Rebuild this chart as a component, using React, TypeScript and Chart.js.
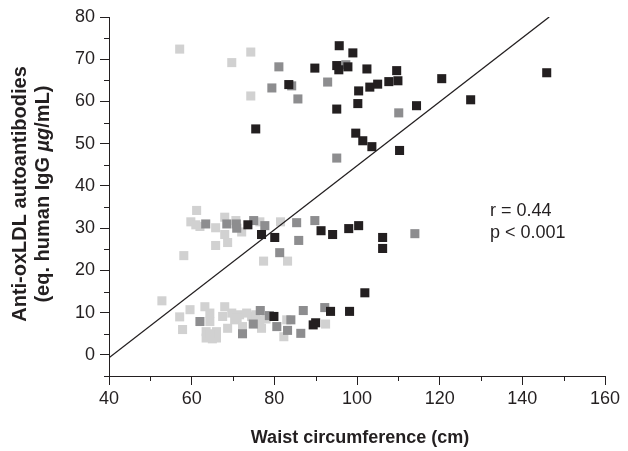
import { useEffect, useRef } from 'react';
import { Chart, registerables } from 'chart.js';

Chart.register(...registerables);

const INK = '#231f20';
const LIGHT = '#d1d1d1';
const MID = '#8d8d8f';

// Waist circumference (cm), anti-oxLDL (µg/mL) — light grey group
const lightPts: [number, number][] = [
  [57.1, 72.4], [74.3, 71.7], [69.7, 69.2], [74.3, 61.3],
  [61.2, 34.2], [59.8, 31.5], [61.0, 30.8], [62.0, 30.4], [65.8, 30.1], [68.0, 32.6],
  [70.7, 31.8], [72.1, 29.1], [76.5, 31.5], [68.0, 28.5], [68.7, 26.6], [65.8, 25.9],
  [81.5, 31.5], [77.4, 22.2], [83.2, 22.2], [58.1, 23.5],
  [52.8, 12.8], [59.6, 10.7], [57.1, 9.0], [57.8, 6.0], [63.2, 11.4], [64.4, 9.9],
  [64.4, 7.9], [68.0, 11.4], [67.5, 9.1], [69.7, 9.9], [70.4, 8.3], [68.7, 6.3],
  [71.6, 9.5], [73.3, 9.9], [72.3, 6.7], [74.5, 9.1], [76.5, 8.3], [76.9, 6.3],
  [83.0, 8.3], [82.3, 4.3], [92.4, 7.3], [63.5, 5.5], [66.0, 5.5], [63.5, 4.0],
  [66.0, 4.0], [65.0, 3.8], [64.5, 5.0], [71.0, 8.8], [75.5, 9.5], [78.0, 8.5],
];

// mid grey group
const midPts: [number, number][] = [
  [81.1, 68.2], [97.3, 68.7], [92.9, 64.6], [84.2, 63.7], [79.4, 63.2], [85.7, 60.6],
  [110.1, 57.3], [95.1, 46.6],
  [63.4, 31.0], [68.5, 31.0], [70.8, 31.0], [70.9, 30.0], [75.0, 31.8], [77.7, 30.6],
  [85.4, 31.3], [89.8, 31.8], [85.9, 27.1], [81.3, 24.2], [114.0, 28.7],
  [62.0, 7.9], [72.3, 5.0], [74.9, 7.3], [76.6, 10.5], [78.8, 9.3], [80.6, 6.7],
  [84.0, 8.3], [83.2, 5.8], [86.4, 5.1], [87.0, 10.5], [92.2, 11.2],
];

// black group
const darkPts: [number, number][] = [
  [95.7, 73.2], [99.0, 71.5], [89.8, 67.9], [95.1, 68.5], [97.8, 68.2], [95.6, 67.5],
  [102.4, 67.7], [83.5, 64.0], [103.1, 63.4], [105.0, 64.1], [107.7, 64.7], [109.6, 67.3],
  [109.9, 64.9], [100.4, 62.5], [100.2, 59.5], [95.1, 58.2], [75.5, 53.5], [99.7, 52.5],
  [101.4, 50.7], [103.6, 49.3], [120.5, 65.4], [114.4, 59.0], [127.5, 60.4], [145.9, 66.8],
  [110.3, 48.4],
  [73.6, 30.8], [76.9, 28.5], [80.1, 27.8], [91.3, 29.4], [94.1, 28.5], [98.0, 29.9],
  [100.4, 30.6], [106.2, 27.8], [106.2, 25.2],
  [101.9, 14.7], [79.9, 9.1], [93.6, 10.3], [98.2, 10.3], [90.0, 7.6], [89.4, 7.1],
];

// regression line end points
const fitLine: [number, number][] = [[40, -0.7], [146.5, 80]];

const xTickLabels = [40, 60, 80, 100, 120, 140, 160];
const yTickLabels = [0, 10, 20, 30, 40, 50, 60, 70, 80];
const statLines = ['r = 0.44', 'p < 0.001'];

const FONT = '"Liberation Sans", Arial, Helvetica, sans-serif';

const toXY = (pts: [number, number][]) => pts.map(([x, y]) => ({ x, y }));

const minorTicks = {
  id: 'minorTicks',
  afterDraw(chart: any) {
    const { ctx } = chart;
    const xs = chart.scales.x;
    const ys = chart.scales.y;
    ctx.save();
    ctx.strokeStyle = INK;
    ctx.lineWidth = 1;
    ctx.beginPath();
    xs.ticks.forEach((t: any) => {
      if (!xTickLabels.includes(t.value)) {
        const px = Math.round(xs.getPixelForValue(t.value)) + 0.5;
        ctx.moveTo(px, xs.top);
        ctx.lineTo(px, xs.top + 5);
      }
    });
    ys.ticks.forEach((t: any) => {
      if (!yTickLabels.includes(t.value)) {
        const py = Math.round(ys.getPixelForValue(t.value)) + 0.5;
        ctx.moveTo(ys.right - 5, py);
        ctx.lineTo(ys.right, py);
      }
    });
    ctx.stroke();
    ctx.restore();
  },
};

const titles = {
  id: 'titles',
  afterDraw(chart: any) {
    const { ctx } = chart;
    ctx.save();
    ctx.fillStyle = INK;
    // x title
    ctx.font = `bold 18px ${FONT}`;
    ctx.textAlign = 'center';
    ctx.textBaseline = 'middle';
    ctx.fillText('Waist circumference (cm)', 360, 438);

    // y title (rotated, two lines)
    ctx.translate(20, 194);
    ctx.rotate(-Math.PI / 2);
    ctx.font = `bold 20px ${FONT}`;
    ctx.textAlign = 'center';
    ctx.fillText('Anti-oxLDL autoantibodies', 0, 0);
    const segs: [string, string][] = [
      ['(eq. human IgG ', `bold 20px ${FONT}`],
      ['\u00b5g', `italic bold 20px ${FONT}`],
      ['/mL)', `bold 20px ${FONT}`],
    ];
    let total = 0;
    segs.forEach(([s, f]) => { ctx.font = f; total += ctx.measureText(s).width; });
    let cx = -total / 2;
    ctx.textAlign = 'left';
    segs.forEach(([s, f]) => {
      ctx.font = f;
      ctx.fillText(s, cx, 23);
      cx += ctx.measureText(s).width;
    });
    ctx.restore();

    // statistics
    ctx.save();
    ctx.fillStyle = INK;
    ctx.font = `18px ${FONT}`;
    ctx.textAlign = 'left';
    ctx.textBaseline = 'middle';
    statLines.forEach((s, i) => ctx.fillText(s, 490, 211 + i * 22));
    ctx.restore();
  },
};

export default function App() {
  const ref = useRef<HTMLCanvasElement | null>(null);

  useEffect(() => {
    if (!ref.current) return;
    const pointCommon = {
      pointStyle: 'rect' as const,
      pointRadius: 6.4,
      pointBorderWidth: 0,
      showLine: false,
    };
    const chart = new Chart(ref.current, {
      type: 'scatter',
      data: {
        datasets: [
          {
            data: toXY(fitLine),
            showLine: true,
            borderColor: INK,
            borderWidth: 1.3,
            pointRadius: 0,
            order: 0,
          } as any,
          { data: toXY(darkPts), backgroundColor: INK, borderColor: INK, order: 1, ...pointCommon },
          { data: toXY(midPts), backgroundColor: MID, borderColor: MID, order: 2, ...pointCommon },
          { data: toXY(lightPts), backgroundColor: LIGHT, borderColor: LIGHT, order: 3, ...pointCommon },
        ],
      },
      options: {
        responsive: false,
        animation: false,
        events: [],
        layout: { padding: { top: 17, right: 23, left: 0, bottom: 0 } },
        plugins: { legend: { display: false }, tooltip: { enabled: false } },
        scales: {
          x: {
            type: 'linear',
            min: 40,
            max: 160,
            afterFit: (s: any) => { s.height = 75; },
            ticks: {
              stepSize: 10,
              autoSkip: false,
              maxRotation: 0,
              color: INK,
              font: { size: 18, family: FONT },
              padding: 3,
              callback: (v: any) => (xTickLabels.includes(v) ? String(v) : ''),
            },
            grid: {
              drawOnChartArea: false,
              drawTicks: true,
              tickLength: 9,
              tickColor: (c: any) => (xTickLabels.includes(c.tick?.value) ? INK : 'rgba(0,0,0,0)'),
            },
            border: { display: true, color: INK, width: 1 },
          },
          y: {
            type: 'linear',
            min: -5,
            max: 80,
            afterFit: (s: any) => { s.width = 109; },
            ticks: {
              stepSize: 5,
              autoSkip: false,
              color: INK,
              font: { size: 18, family: FONT },
              padding: 5,
              callback: (v: any) => (yTickLabels.includes(v) ? String(v) : ''),
            },
            grid: {
              drawOnChartArea: false,
              drawTicks: true,
              tickLength: 9,
              tickColor: (c: any) => (yTickLabels.includes(c.tick?.value) ? INK : 'rgba(0,0,0,0)'),
            },
            border: { display: true, color: INK, width: 1 },
          },
        },
      },
      plugins: [minorTicks, titles],
    });
    return () => chart.destroy();
  }, []);

  return (
    <div style={{ position: 'absolute', left: 0, top: 0, width: 628, height: 451, background: '#fff' }}>
      <canvas ref={ref} width={628} height={451} />
    </div>
  );
}
